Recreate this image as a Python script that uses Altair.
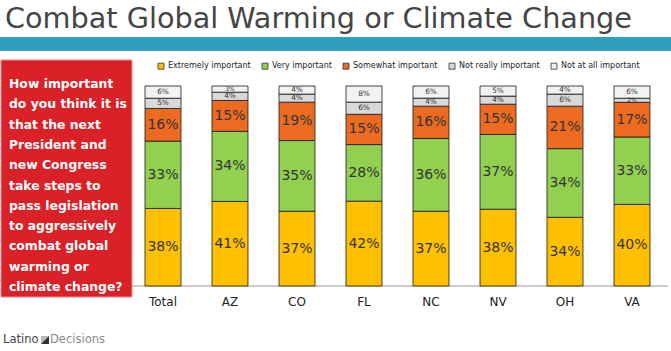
import altair as alt
import pandas as pd

categories = ["Total", "AZ", "CO", "FL", "NC", "NV", "OH", "VA"]
responses = ["Extremely important", "Very important", "Somewhat important",
             "Not really important", "Not at all important"]
extremely = [38, 41, 37, 42, 37, 38, 34, 40]
very = [33, 34, 35, 28, 36, 37, 34, 33]
somewhat = [16, 15, 19, 15, 16, 15, 21, 17]
not_really = [5, 4, 4, 6, 4, 4, 6, 2]
not_at_all = [6, 3, 4, 8, 6, 5, 4, 6]
colors = ["#FFC000", "#92D050", "#ED6B21", "#D9D9D9", "#F2F2F2"]

title_text = "Combat Global Warming or Climate Change"
question_lines = ["How important", "do you think it is", "that the next",
                  "President and", "new Congress", "take steps to",
                  "pass legislation", "to aggressively", "combat global",
                  "warming or", "climate change?"]

series = [extremely, very, somewhat, not_really, not_at_all]
rows = []
for ri, (resp, vals) in enumerate(zip(responses, series)):
    for c, v in zip(categories, vals):
        rows.append({"category": c, "response": resp, "value": v, "order": ri})
df = pd.DataFrame(rows)
cat_df = pd.DataFrame({"category": categories})

FONT = "DejaVu Sans"

xscale = alt.Scale(domain=categories, range=[129.5, 665.5],
                   paddingInner=0.463, paddingOuter=0.2315)
yscale = alt.Scale(domain=[0, 1], range=[286, 86], nice=False, zero=True)

base = alt.Chart(df)

bars = base.mark_bar(stroke="#1a1a1a", strokeWidth=0.8).encode(
    x=alt.X("category:N", scale=xscale, axis=None, sort=categories),
    y=alt.Y("value:Q", stack="normalize", scale=yscale, axis=None),
    color=alt.Color("response:N",
                    scale=alt.Scale(domain=responses, range=colors),
                    sort=responses,
                    legend=alt.Legend(orient="none", legendX=157, legendY=62,
                                      direction="horizontal", title=None,
                                      symbolType="square", symbolSize=36,
                                      symbolStrokeColor="#333",
                                      symbolStrokeWidth=0.8,
                                      labelFontSize=8, labelFont=FONT,
                                      labelColor="#222", labelOffset=3,
                                      columnPadding=9)),
    order=alt.Order("order:Q"),
)

labels = base.transform_stack(
    stack="value", groupby=["category"], sort=[alt.SortField("order")],
    as_=["y0", "y1"], offset="normalize"
).transform_calculate(
    mid="(datum.y0 + datum.y1) / 2",
    label="datum.value + '%'",
    fs="datum.value <= 3 ? 6 : (datum.value < 10 ? 7.4 : 14)"
).mark_text(font=FONT, color="#333").encode(
    x=alt.X("category:N", scale=xscale, axis=None, sort=categories),
    y=alt.Y("mid:Q", scale=yscale, axis=None),
    text="label:N",
    size=alt.Size("fs:Q", scale=None, legend=None),
)

cat_labels = alt.Chart(cat_df).mark_text(font=FONT, fontSize=12, color="#222",
                                         baseline="middle").encode(
    x=alt.X("category:N", scale=xscale, axis=None, sort=categories),
    y=alt.value(302),
    text="category:N",
)

one = pd.DataFrame({"a": [0]})

baseline = alt.Chart(one).mark_rule(color="#999", strokeWidth=1).encode(
    x=alt.value(132), x2=alt.value(668), y=alt.value(286))

title = alt.Chart(one).mark_text(font=FONT, fontSize=28.7, color="#454545",
                                 align="left", baseline="middle").encode(
    x=alt.value(5), y=alt.value(19), text=alt.value(title_text))

band = alt.Chart(one).mark_rect(color="#2E9FBF").encode(
    x=alt.value(0), x2=alt.value(671), y=alt.value(37), y2=alt.value(51))

redbox = alt.Chart(one).mark_rect(color="#DA2128", stroke="#F08A8E",
                                  strokeWidth=1).encode(
    x=alt.value(1), x2=alt.value(132), y=alt.value(60), y2=alt.value(297))

question = alt.Chart(one).mark_text(font=FONT, fontSize=12.4, fontWeight="bold",
                                    color="white",
                                    align="left", baseline="middle",
                                    lineHeight=20.3).encode(
    x=alt.value(9), y=alt.value(84), text=alt.value(question_lines))

logo1 = alt.Chart(one).mark_text(font=FONT, fontSize=11.5, color="#444",
                                 align="left", baseline="middle").encode(
    x=alt.value(3), y=alt.value(340), text=alt.value("Latino"))
logo_sq = alt.Chart(one).mark_rect(color="#bbb").encode(
    x=alt.value(41), x2=alt.value(49), y=alt.value(336), y2=alt.value(344))
logo_tri = alt.Chart(one).mark_point(
    shape="M-1,1 L1,-1 L1,1 Z", filled=True, color="#333", opacity=1,
    size=64).encode(x=alt.value(45), y=alt.value(340))
logo2 = alt.Chart(one).mark_text(font=FONT, fontSize=11.5, color="#8a8a8a",
                                 align="left", baseline="middle").encode(
    x=alt.value(50), y=alt.value(340), text=alt.value("Decisions"))

chart = alt.layer(
    band, redbox, question, title, baseline, bars, labels, cat_labels,
    logo1, logo_sq, logo_tri, logo2
).properties(
    width=671, height=351, padding=0, autosize=alt.AutoSizeParams(type="none"),
    background="white"
).configure_view(stroke=None)

chart.save("out.html", embed_options={"renderer": "svg", "actions": False})
